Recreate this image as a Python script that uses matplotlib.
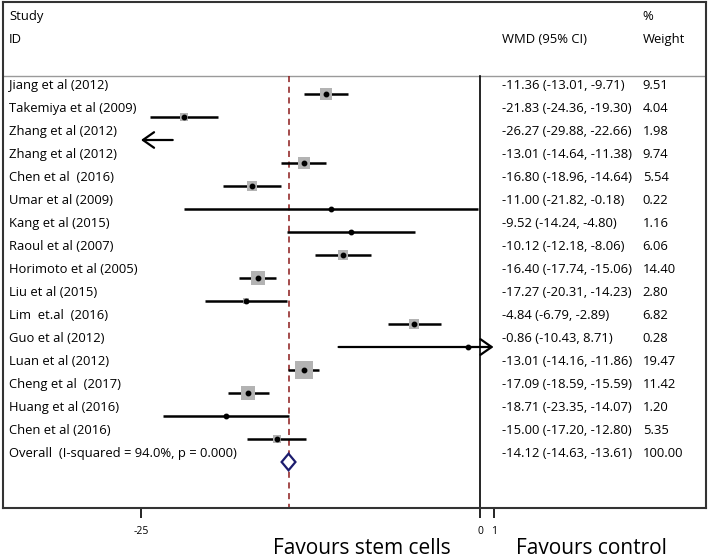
import matplotlib
matplotlib.use("Agg")
from matplotlib import pyplot as plt
from matplotlib.patches import Polygon

studies = ["Jiang et al (2012)", "Takemiya et al (2009)", "Zhang et al (2012)",
           "Zhang et al (2012)", "Chen et al  (2016)", "Umar et al (2009)",
           "Kang et al (2015)", "Raoul et al (2007)", "Horimoto et al (2005)",
           "Liu et al (2015)", "Lim  et.al  (2016)", "Guo et al (2012)",
           "Luan et al (2012)", "Cheng et al  (2017)", "Huang et al (2016)",
           "Chen et al (2016)"]
wmd = [-11.36, -21.83, -26.27, -13.01, -16.80, -11.00, -9.52, -10.12,
       -16.40, -17.27, -4.84, -0.86, -13.01, -17.09, -18.71, -15.00]
lo = [-13.01, -24.36, -29.88, -14.64, -18.96, -21.82, -14.24, -12.18,
      -17.74, -20.31, -6.79, -10.43, -14.16, -18.59, -23.35, -17.20]
hi = [-9.71, -19.30, -22.66, -11.38, -14.64, -0.18, -4.80, -8.06,
      -15.06, -14.23, -2.89, 8.71, -11.86, -15.59, -14.07, -12.80]
weight = [9.51, 4.04, 1.98, 9.74, 5.54, 0.22, 1.16, 6.06,
          14.40, 2.80, 6.82, 0.28, 19.47, 11.42, 1.20, 5.35]
overall_label = "Overall  (I-squared = 94.0%, p = 0.000)"
overall = (-14.12, -14.63, -13.61)
overall_weight = 100.00
xticks = [-25, 0, 1]

xmin, xmax = -25, 1
plt.rcParams['font.family'] = ['Open Sans', 'DejaVu Sans']

fig = plt.figure(figsize=(7.09, 5.58), dpi=100)
W, H = 709, 558
L, R, T, B = 3, 706, 2, 508
ax = fig.add_axes([L / W, 1 - B / H, (R - L) / W, (B - T) / H])
ppu = 13.56  # pixels per unit
x0 = 480
ax.set_xlim((L - x0) / ppu, (R - x0) / ppu)
ax.set_ylim((B - 94) / 23, (T - 94) / 23)

hdr = -0.78
n = len(studies)
ytr = ax.get_yaxis_transform()
fs = 9.4
cx = [0.0085, 0.7098, 0.910]

# header
ax.axhline(hdr, color="#9a9a9a", lw=1)
ax.text(cx[0], -3.35, "Study", transform=ytr, va="center", fontsize=fs)
ax.text(cx[0], -2.35, "ID", transform=ytr, va="center", fontsize=fs)
ax.text(cx[1], -2.35, "WMD (95% CI)", transform=ytr, va="center", fontsize=fs)
ax.text(cx[2], -3.35, "%", transform=ytr, va="center", fontsize=fs)
ax.text(cx[2], -2.35, "Weight", transform=ytr, va="center", fontsize=fs)

# reference lines
ax.plot([0, 0], [hdr, 18], color="black", lw=1.2)
ax.plot([overall[0], overall[0]], [hdr, 18], color="#8b1a1a", lw=1.1, ls=(0, (4, 3)))

for i in range(n):
    a, b = max(lo[i], xmin), min(hi[i], xmax)
    if lo[i] < xmin:
        ax.annotate("", xy=(xmin, i), xytext=(b, i),
                    arrowprops=dict(arrowstyle="->,head_length=0.5,head_width=0.35",
                                    lw=1.6, color="black",
                                    mutation_scale=16, shrinkA=0, shrinkB=0))
    elif hi[i] > xmax:
        ax.annotate("", xy=(xmax, i), xytext=(a, i),
                    arrowprops=dict(arrowstyle="->,head_length=0.5,head_width=0.35",
                                    lw=1.6, color="black",
                                    mutation_scale=16, shrinkA=0, shrinkB=0))
    else:
        ax.plot([a, b], [i, i], color="black", lw=1.8, solid_capstyle="butt")
    if xmin <= wmd[i] <= xmax:
        ax.scatter(wmd[i], i, marker="s", s=7.7 * weight[i], color="#b3b3b3",
                   zorder=2, linewidths=0)
        ax.plot(wmd[i], i, "o", color="black", ms=3.2, zorder=3)
    ax.text(cx[0], i - 0.35, studies[i], transform=ytr, va="center", fontsize=fs)
    ax.text(cx[1], i - 0.35, f"{wmd[i]:.2f} ({lo[i]:.2f}, {hi[i]:.2f})",
            transform=ytr, va="center", fontsize=fs)
    ax.text(cx[2], i - 0.35, f"{weight[i]:.2f}", transform=ytr, va="center", fontsize=fs)

# overall
yo = n
est, olo, ohi = overall
dia = Polygon([(olo, yo), (est, yo - 0.36), (ohi, yo), (est, yo + 0.36)],
              closed=True, facecolor="white", edgecolor="#1c1c6e", lw=1.6, zorder=4)
ax.add_patch(dia)
ax.text(cx[0], yo - 0.35, overall_label, transform=ytr, va="center", fontsize=fs)
ax.text(cx[1], yo - 0.35, f"{est:.2f} ({olo:.2f}, {ohi:.2f})",
        transform=ytr, va="center", fontsize=fs)
ax.text(cx[2], yo - 0.35, f"{overall_weight:.2f}", transform=ytr, va="center", fontsize=fs)

ax.set_yticks([])
ax.set_xticks(xticks)
ax.set_xticklabels([str(t) for t in xticks], fontsize=7.5)
ax.tick_params(axis="x", direction="out", length=7, width=1.2, pad=6)
for s in ax.spines.values():
    s.set_color("#333333")
    s.set_linewidth(1.5)

fig.text(362 / W, 1 - 548 / H, "Favours stem cells", ha="center", va="center", fontsize=15)
fig.text(591 / W, 1 - 548 / H, "Favours control", ha="center", va="center", fontsize=15)

fig.savefig("out.png", dpi=100)
